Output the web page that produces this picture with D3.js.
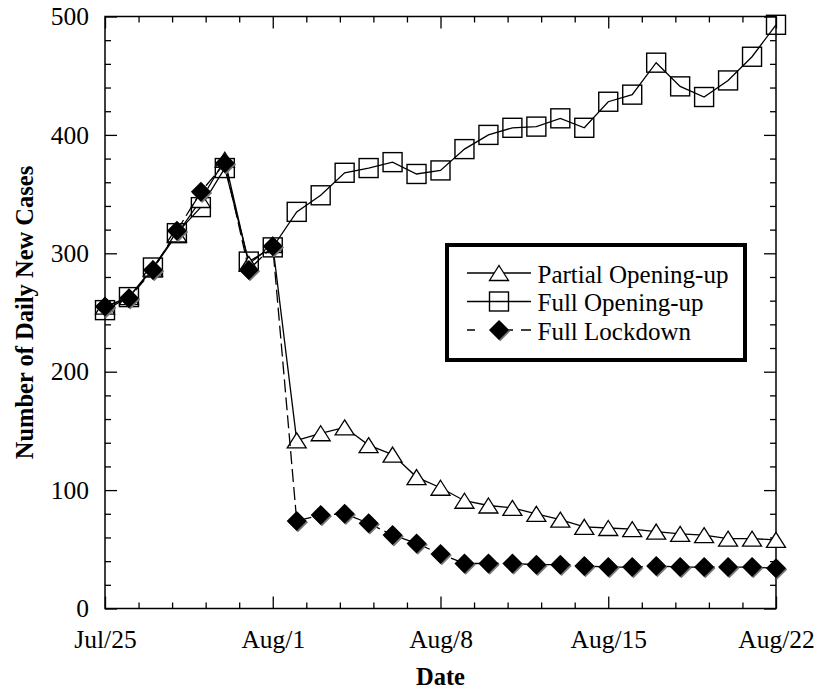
<!DOCTYPE html>
<html>
<head>
<meta charset="utf-8">
<script src="https://cdn.jsdelivr.net/npm/d3@7"></script>
<style>
  body { margin: 0; background: #fff; }
  text { font-family: "Liberation Serif", "Times New Roman", serif; fill: #000; }
</style>
</head>
<body>
<svg id="chart" width="816" height="689"></svg>
<script>
var dates = [
  "2020-07-25", "2020-07-26", "2020-07-27", "2020-07-28", "2020-07-29", "2020-07-30", "2020-07-31",
  "2020-08-01", "2020-08-02", "2020-08-03", "2020-08-04", "2020-08-05", "2020-08-06", "2020-08-07",
  "2020-08-08", "2020-08-09", "2020-08-10", "2020-08-11", "2020-08-12", "2020-08-13", "2020-08-14",
  "2020-08-15", "2020-08-16", "2020-08-17", "2020-08-18", "2020-08-19", "2020-08-20", "2020-08-21",
  "2020-08-22"
];

var partialOpening = [255, 263, 287, 316, 345, 379, 291, 307, 142, 148, 153, 138, 130, 111,
  102, 91, 87, 85, 80, 75, 69, 68, 67, 65, 63, 62, 59, 59, 58];
var fullOpening = [252, 263, 288, 317, 339, 372, 293, 305, 335, 349, 368, 372, 377, 367,
  370, 388, 400, 406, 407, 414, 406, 428, 434, 461, 441, 432, 446, 466, 493];
var fullLockdown = [255, 262, 286, 319, 352, 376, 286, 306, 74, 79, 80, 72, 62, 55,
  46, 38, 38, 38, 37, 37, 36, 35, 35, 36, 35, 35, 35, 35, 34];

var xTickDates = ["2020-07-25", "2020-08-01", "2020-08-08", "2020-08-15", "2020-08-22"];
var xTickLabels = ["Jul/25", "Aug/1", "Aug/8", "Aug/15", "Aug/22"];
var yTicks = [0, 100, 200, 300, 400, 500];
var yMinorTicks = [20, 40, 60, 80, 120, 140, 160, 180, 220, 240, 260, 280, 320, 340, 360, 380, 420, 440, 460, 480];

var seriesNames = ["Partial Opening-up", "Full Opening-up", "Full Lockdown"];

var parse = d3.timeParse("%Y-%m-%d");
var DAY = 86400000;

var plotLeft = 105, plotRight = 776, plotTop = 16.5, plotBottom = 608.5;

var svg = d3.select("#chart");

var x = d3.scaleTime()
  .domain([parse(dates[0]), parse(dates[dates.length - 1])])
  .range([plotLeft, plotRight]);

var y = d3.scaleLinear()
  .domain([0, 500])
  .range([plotBottom, plotTop]);

// minor x ticks: four between each weekly label
var xMajor = xTickDates.map(parse);
var xMinor = [];
xMajor.slice(0, -1).forEach(function (d) {
  for (var k = 1; k < 5; k++) { xMinor.push(new Date(+d + k * 1.4 * DAY)); }
});

function styleAxis(g) {
  g.select(".domain").remove();
  g.selectAll("line").attr("stroke", "#000").attr("stroke-width", 1.3);
  g.selectAll("text")
    .style("font-family", "'Liberation Serif', 'Times New Roman', serif")
    .style("font-size", "25.5px")
    .attr("fill", "#000");
}

// bottom
svg.append("g").attr("transform", "translate(0," + plotBottom + ")")
  .call(d3.axisBottom(x).tickValues(xMajor).tickSize(-12).tickPadding(21)
    .tickFormat(function (d, i) { return xTickLabels[i]; }))
  .call(styleAxis);
svg.append("g").attr("transform", "translate(0," + plotBottom + ")")
  .call(d3.axisBottom(x).tickValues(xMinor).tickSize(-6).tickFormat(""))
  .call(styleAxis);
// top
svg.append("g").attr("transform", "translate(0," + plotTop + ")")
  .call(d3.axisTop(x).tickValues(xMajor).tickSize(-12).tickFormat(""))
  .call(styleAxis);
svg.append("g").attr("transform", "translate(0," + plotTop + ")")
  .call(d3.axisTop(x).tickValues(xMinor).tickSize(-6).tickFormat(""))
  .call(styleAxis);
// left
svg.append("g").attr("transform", "translate(" + plotLeft + ",0)")
  .call(d3.axisLeft(y).tickValues(yTicks).tickSize(-12).tickPadding(16).tickFormat(d3.format("d")))
  .call(styleAxis);
svg.append("g").attr("transform", "translate(" + plotLeft + ",0)")
  .call(d3.axisLeft(y).tickValues(yMinorTicks).tickSize(-6).tickFormat(""))
  .call(styleAxis);
// right
svg.append("g").attr("transform", "translate(" + plotRight + ",0)")
  .call(d3.axisRight(y).tickValues(yTicks).tickSize(-12).tickFormat(""))
  .call(styleAxis);
svg.append("g").attr("transform", "translate(" + plotRight + ",0)")
  .call(d3.axisRight(y).tickValues(yMinorTicks).tickSize(-6).tickFormat(""))
  .call(styleAxis);

// frame
svg.append("rect")
  .attr("x", plotLeft).attr("y", plotTop)
  .attr("width", plotRight - plotLeft).attr("height", plotBottom - plotTop)
  .attr("fill", "none").attr("stroke", "#000").attr("stroke-width", 1.5);

// axis titles
svg.append("text")
  .attr("x", (plotLeft + plotRight) / 2).attr("y", 685)
  .attr("text-anchor", "middle")
  .style("font-size", "24.5px").style("font-weight", "bold")
  .text("Date");

svg.append("text")
  .attr("transform", "translate(33," + ((plotTop + plotBottom) / 2) + ") rotate(-90)")
  .attr("text-anchor", "middle")
  .style("font-size", "24.5px").style("font-weight", "bold")
  .text("Number of Daily New Cases");

// markers
function triangle(g) {
  g.append("path").attr("d", "M0,-7.5L9.5,7.5L-9.5,7.5Z")
    .attr("fill", "#fff").attr("stroke", "#000").attr("stroke-width", 1.3);
}
function square(g) {
  g.append("rect").attr("x", -9.5).attr("y", -9.5).attr("width", 19).attr("height", 19)
    .attr("fill", "none").attr("stroke", "#000").attr("stroke-width", 1.4);
}
function diamond(g) {
  g.append("path").attr("d", "M1.3,-8.7L11.3,1.3L1.3,11.3L-8.7,1.3Z").attr("fill", "#777");
  g.append("path").attr("d", "M0,-10L10,0L0,10L-10,0Z").attr("fill", "#000");
}

var series = [
  { name: seriesNames[1], values: fullOpening, marker: square, dash: null },
  { name: seriesNames[0], values: partialOpening, marker: triangle, dash: null },
  { name: seriesNames[2], values: fullLockdown, marker: diamond, dash: "13,5" }
];

var line = d3.line()
  .x(function (d) { return x(parse(d.date)); })
  .y(function (d) { return y(d.value); });

series.forEach(function (s) {
  var pts = dates.map(function (d, i) { return { date: d, value: s.values[i] }; });
  svg.append("path")
    .datum(pts)
    .attr("d", line)
    .attr("fill", "none")
    .attr("stroke", "#000")
    .attr("stroke-width", 1.3)
    .attr("stroke-dasharray", s.dash);
  svg.append("g").selectAll("g")
    .data(pts)
    .enter().append("g")
    .attr("transform", function (d) { return "translate(" + x(parse(d.date)) + "," + y(d.value) + ")"; })
    .each(function () { s.marker(d3.select(this)); });
});

// legend
var legend = svg.append("g");
legend.append("rect")
  .attr("x", 447).attr("y", 245).attr("width", 298).attr("height", 115)
  .attr("fill", "#fff").attr("stroke", "#000").attr("stroke-width", 4);

var legendItems = [
  { name: seriesNames[0], marker: triangle, dash: null },
  { name: seriesNames[1], marker: square, dash: null },
  { name: seriesNames[2], marker: diamond, dash: "13,5" }
];
var rowY = d3.scalePoint().domain(d3.range(legendItems.length)).range([273, 330]);

legendItems.forEach(function (item, i) {
  var cy = rowY(i);
  legend.append("line")
    .attr("x1", 467).attr("x2", 531).attr("y1", cy).attr("y2", cy)
    .attr("stroke", "#000").attr("stroke-width", 1.3)
    .attr("stroke-dasharray", item.dash ? "8,24,14" : null);
  var m = legend.append("g").attr("transform", "translate(499," + cy + ")");
  item.marker(m);
  legend.append("text")
    .attr("x", 537.5).attr("y", cy + 9.5)
    .style("font-size", "25px")
    .text(item.name);
});
</script>
</body>
</html>
